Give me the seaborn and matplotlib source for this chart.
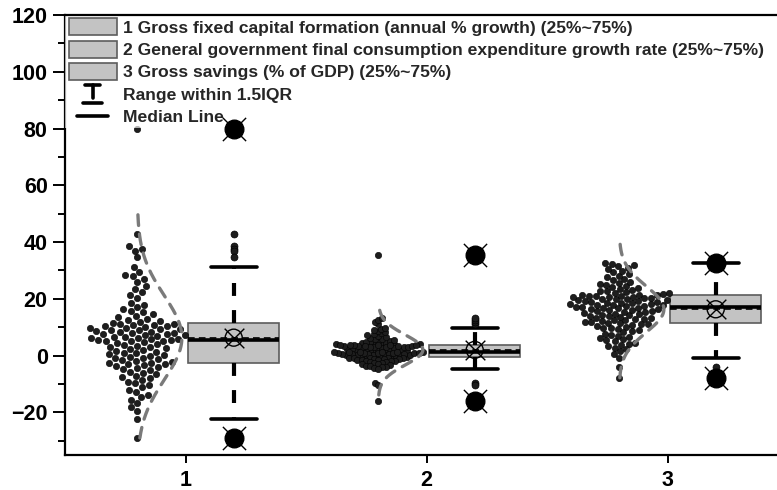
import numpy as np
import pandas as pd
import matplotlib
matplotlib.use("Agg")
import matplotlib.pyplot as plt
import seaborn as sns
from matplotlib.patches import Patch
from matplotlib.lines import Line2D
from matplotlib.legend_handler import HandlerBase

# ---- data -------------------------------------------------------------
groups = [1, 2, 3]
tick_labels = ["1", "2", "3"]
legend_labels = [
    "1 Gross fixed capital formation (annual % growth) (25%~75%)",
    "2 General government final consumption expenditure growth rate (25%~75%)",
    "3 Gross savings (% of GDP) (25%~75%)",
    "Range within 1.5IQR",
    "Median Line",
]

capital_formation = [
    80.0, 43.0, 38.8, 37.5, 37.0, 34.6,
    31.4, 29.5, 28.0, 28.5, 27.0, 26.0, 24.5, 23.5, 22.4, 21.3, 20.4, 18.7,
    18.0, 17.2, 16.5, 15.9, 15.2, 14.6, 14.0, 13.5, 13.0, 12.6, 12.2, 11.9,
    5.7, 5.9, 6.1, 6.3, 6.5, 6.7, 6.9, 7.1, 7.3, 7.5,
    7.7, 7.9, 8.1, 8.3, 8.5, 8.7, 8.9, 9.1, 9.3, 9.5,
    9.7, 9.9, 10.1, 10.3, 10.5, 10.7, 10.9, 11.1, 11.3, 11.6,
    -2.5, -2.2, -1.9, -1.6, -1.3, -1.0, -0.7, -0.4, -0.1, 0.2,
    0.5, 0.8, 1.1, 1.4, 1.7, 2.0, 2.3, 2.6, 2.9, 3.2,
    3.5, 3.8, 4.1, 4.4, 4.7, 5.0, 5.2, 5.3, 5.4, 5.5,
    -2.7, -2.9, -3.1, -3.4, -3.7, -4.0, -4.4, -4.8, -5.2, -5.6,
    -6.0, -6.5, -7.0, -7.5, -8.0, -8.6, -9.2, -9.8, -10.5, -11.2,
    -12.0, -12.8, -13.7, -14.6, -15.6, -16.8, -18.2, -19.6, -22.4, -29.0,
]

gov_consumption = [
    3.95, 4.0, 4.1, 4.2, 4.3, 4.4, 4.5, 4.7, 4.9, 5.1,
    5.3, 5.5, 5.8, 6.0, 6.3, 6.6, 6.9, 7.2, 7.5, 7.9,
    8.3, 8.7, 9.1, 9.5, 9.9, 11.2, 12.0, 12.7, 13.4, 35.6,
    1.5, 1.6, 1.7, 1.8, 1.9, 2.0, 2.1, 2.2, 2.3, 2.4,
    2.5, 2.6, 2.7, 2.8, 2.9, 3.0, 3.05, 3.1, 3.2, 3.25,
    3.3, 3.4, 3.45, 3.5, 3.6, 3.65, 3.7, 3.8, 3.85, 3.9,
    -0.6, -0.5, -0.4, -0.3, -0.2, -0.1, 0.0, 0.1, 0.15, 0.2,
    0.3, 0.35, 0.4, 0.5, 0.55, 0.6, 0.7, 0.75, 0.8, 0.9,
    0.95, 1.0, 1.05, 1.1, 1.15, 1.2, 1.25, 1.3, 1.35, 1.38,
    -0.7, -0.75, -0.8, -0.9, -1.0, -1.1, -1.2, -1.3, -1.4, -1.5,
    -1.6, -1.8, -1.9, -2.0, -2.2, -2.4, -2.5, -2.7, -2.9, -3.1,
    -3.3, -3.5, -3.7, -3.9, -4.1, -4.3, -4.6, -9.6, -10.3, -15.9,
]

gross_savings = [
    21.3, 21.5, 21.7, 21.9, 22.1, 22.3, 22.6, 22.9, 23.2, 23.5,
    23.8, 24.1, 24.5, 24.9, 25.3, 25.7, 26.1, 26.6, 27.1, 27.6,
    28.1, 28.7, 29.3, 29.9, 30.5, 31.0, 31.5, 32.0, 32.3, 32.5,
    17.1, 17.2, 17.4, 17.5, 17.7, 17.8, 18.0, 18.1, 18.3, 18.4,
    18.6, 18.7, 18.9, 19.0, 19.2, 19.3, 19.5, 19.6, 19.8, 19.9,
    20.1, 20.2, 20.4, 20.5, 20.6, 20.8, 20.9, 21.0, 21.1, 21.2,
    11.4, 11.6, 11.8, 12.0, 12.2, 12.4, 12.6, 12.8, 13.0, 13.2,
    13.4, 13.6, 13.8, 14.0, 14.2, 14.4, 14.6, 14.8, 15.0, 15.2,
    15.4, 15.6, 15.8, 16.0, 16.2, 16.4, 16.5, 16.7, 16.8, 16.9,
    11.2, 11.0, 10.8, 10.5, 10.2, 9.9, 9.6, 9.3, 9.0, 8.6,
    8.2, 7.8, 7.4, 7.0, 6.6, 6.2, 5.8, 5.4, 5.0, 4.6,
    4.2, 3.8, 3.3, 2.8, 2.2, 1.5, 0.6, -0.7, -4.0, -7.8,
]

series = [capital_formation, gov_consumption, gross_savings]

# ---- styling ----------------------------------------------------------
sns.set_theme(style="ticks")
plt.rcParams["font.family"] = ["Liberation Sans", "DejaVu Sans"]
plt.rcParams["font.weight"] = "bold"
plt.rcParams["axes.edgecolor"] = "black"
plt.rcParams["xtick.color"] = "black"
plt.rcParams["ytick.color"] = "black"

df = pd.DataFrame({
    "group": np.repeat(groups, [len(s) for s in series]),
    "value": np.concatenate(series),
})
shift = 0.2
df["pt_pos"] = df["group"] - shift
df["box_pos"] = df["group"] + shift

fig = plt.figure(figsize=(7.77, 4.90), dpi=100)
ax = fig.add_axes([65 / 777, 35 / 490, 723 / 777, 440 / 490])

# raw observations as a swarm on the left of each group; the packing size
# differs per group so every swarm has a similar overall width
pack_size = {1: 4.8, 2: 2.5, 3: 4.1}
swarm_points = []
for g in groups:
    n_before = len(ax.collections)
    sns.swarmplot(data=df[df["group"] == g], x="pt_pos", y="value", orient="x",
                  native_scale=True, size=pack_size[g], color="#1e1e1e",
                  edgecolor="black", linewidth=0.4, ax=ax, zorder=3,
                  warn_thresh=1)
    swarm_points += ax.collections[n_before:]

# box on the right of each group
sns.boxplot(
    data=df, x="box_pos", y="value", orient="x", native_scale=True,
    width=0.38, color="#c3c3c3", saturation=1, linecolor="#5c5c5c",
    linewidth=1.2, whis=1.5, showmeans=True, meanline=True,
    meanprops=dict(color="black", linestyle=(0, (4, 2.5)), linewidth=1.2),
    whiskerprops=dict(color="black", linewidth=3.0, linestyle=(0, (3.1, 3.4))),
    capprops=dict(color="black", linewidth=2.6),
    medianprops=dict(color="black", linewidth=2.6),
    flierprops=dict(marker="o", markersize=5, markerfacecolor="#1e1e1e",
                    markeredgecolor="black", markeredgewidth=0.5),
    ax=ax,
)

# normal distribution outline to the right of each swarm
# (up to mean + 3 sd, down to mean - 3 sd or the group minimum)
stats = df.groupby("group")["value"].agg(["mean", "std", "min", "max"])
for g, row in stats.iterrows():
    lo = max(row["mean"] - 3 * row["std"], row["min"])
    hi = row["mean"] + 3 * row["std"]
    yy = np.linspace(lo, hi, 300)
    z = (yy - row["mean"]) / row["std"]
    ax.plot(g - shift + 0.185 * np.exp(-0.5 * z ** 2), yy, color="#7a7a7a",
            lw=2.4, ls=(0, (3.2, 2.6)), dash_capstyle="round", zorder=4)

# mean symbol and min / max symbols on each box
box_x = stats.index.values + shift
ax.scatter(box_x, stats["mean"], s=150, facecolor="none", edgecolor="black",
           linewidth=1.0, zorder=7)
ax.scatter(box_x, stats["mean"], s=200, marker="x", color="black",
           linewidth=1.0, zorder=7)
for col in ["min", "max"]:
    ax.scatter(box_x, stats[col], s=280, marker="x", color="black",
               linewidth=1.0, zorder=7)
    ax.scatter(box_x, stats[col], s=180, marker="o", color="black",
               edgecolor="black", zorder=7)

# axes
ax.set_xlim(0.5, 3.5)
ax.set_ylim(-35, 120)
ax.set_xticks(groups)
ax.set_xticklabels(tick_labels)
ax.set_yticks(np.arange(-20, 121, 20))
ax.set_yticks(np.arange(-30, 121, 10), minor=True)
ax.set_xlabel("")
ax.set_ylabel("")
for side in ["left", "bottom", "top", "right"]:
    ax.spines[side].set_visible(True)
    ax.spines[side].set_linewidth(1.6)
    ax.spines[side].set_color("black")
ax.spines["top"].set_zorder(6)
ax.tick_params(axis="y", which="major", direction="out", length=8.5, width=1.4,
               labelsize=15.5, pad=4)
ax.tick_params(axis="y", which="minor", direction="out", length=5, width=1.4)
ax.tick_params(axis="x", which="major", direction="out", length=6, width=1.4,
               labelsize=15.5, pad=5)
ax.tick_params(axis="x", which="minor", length=0)
for lab in ax.get_xticklabels() + ax.get_yticklabels():
    lab.set_fontweight("bold")


# ---- legend -----------------------------------------------------------
class RangeHandler(HandlerBase):
    def create_artists(self, legend, orig_handle, xdescent, ydescent,
                       width, height, fontsize, trans):
        cx = width / 2 - xdescent
        top = height * 1.0 - ydescent
        bot = -ydescent - height * 0.05
        lw = 2.6
        arts = [
            Line2D([cx - width * 0.16, cx + width * 0.16], [top, top], lw=lw, color="black"),
            Line2D([cx, cx], [top, bot + height * 0.3], lw=lw, color="black"),
            Line2D([cx - width * 0.2, cx + width * 0.2], [bot, bot], lw=lw, color="black"),
        ]
        for a in arts:
            a.set_transform(trans)
        return arts


class MedianHandler(HandlerBase):
    def create_artists(self, legend, orig_handle, xdescent, ydescent,
                       width, height, fontsize, trans):
        y = height / 2 - ydescent
        ln = Line2D([width * 0.17 - xdescent, width * 0.83 - xdescent], [y, y],
                    lw=2.6, color="black")
        ln.set_transform(trans)
        return [ln]


range_handle = Line2D([], [])
median_handle = Line2D([], [], color="black")
handles = [Patch(facecolor="#c3c3c3", edgecolor="#5c5c5c", linewidth=1.2)
           for _ in range(3)] + [range_handle, median_handle]

leg = ax.legend(
    handles, legend_labels, loc="upper left", bbox_to_anchor=(0, 1),
    borderaxespad=0, borderpad=0.2, handlelength=2.75,
    handleheight=1.1, handletextpad=0.35, labelspacing=0.28,
    frameon=True, fancybox=False, facecolor="white", edgecolor="none",
    framealpha=0.65,
    handler_map={range_handle: RangeHandler(), median_handle: MedianHandler()},
    prop={"weight": "bold", "size": 12.6},
)
leg.set_zorder(5)

# fix swarm layout, then enlarge the dots so they overlap
fig.canvas.draw()
for coll in swarm_points:
    if "draw" in coll.__dict__:
        del coll.draw
    coll.set_sizes([21])

fig.savefig("out.png", dpi=100)
